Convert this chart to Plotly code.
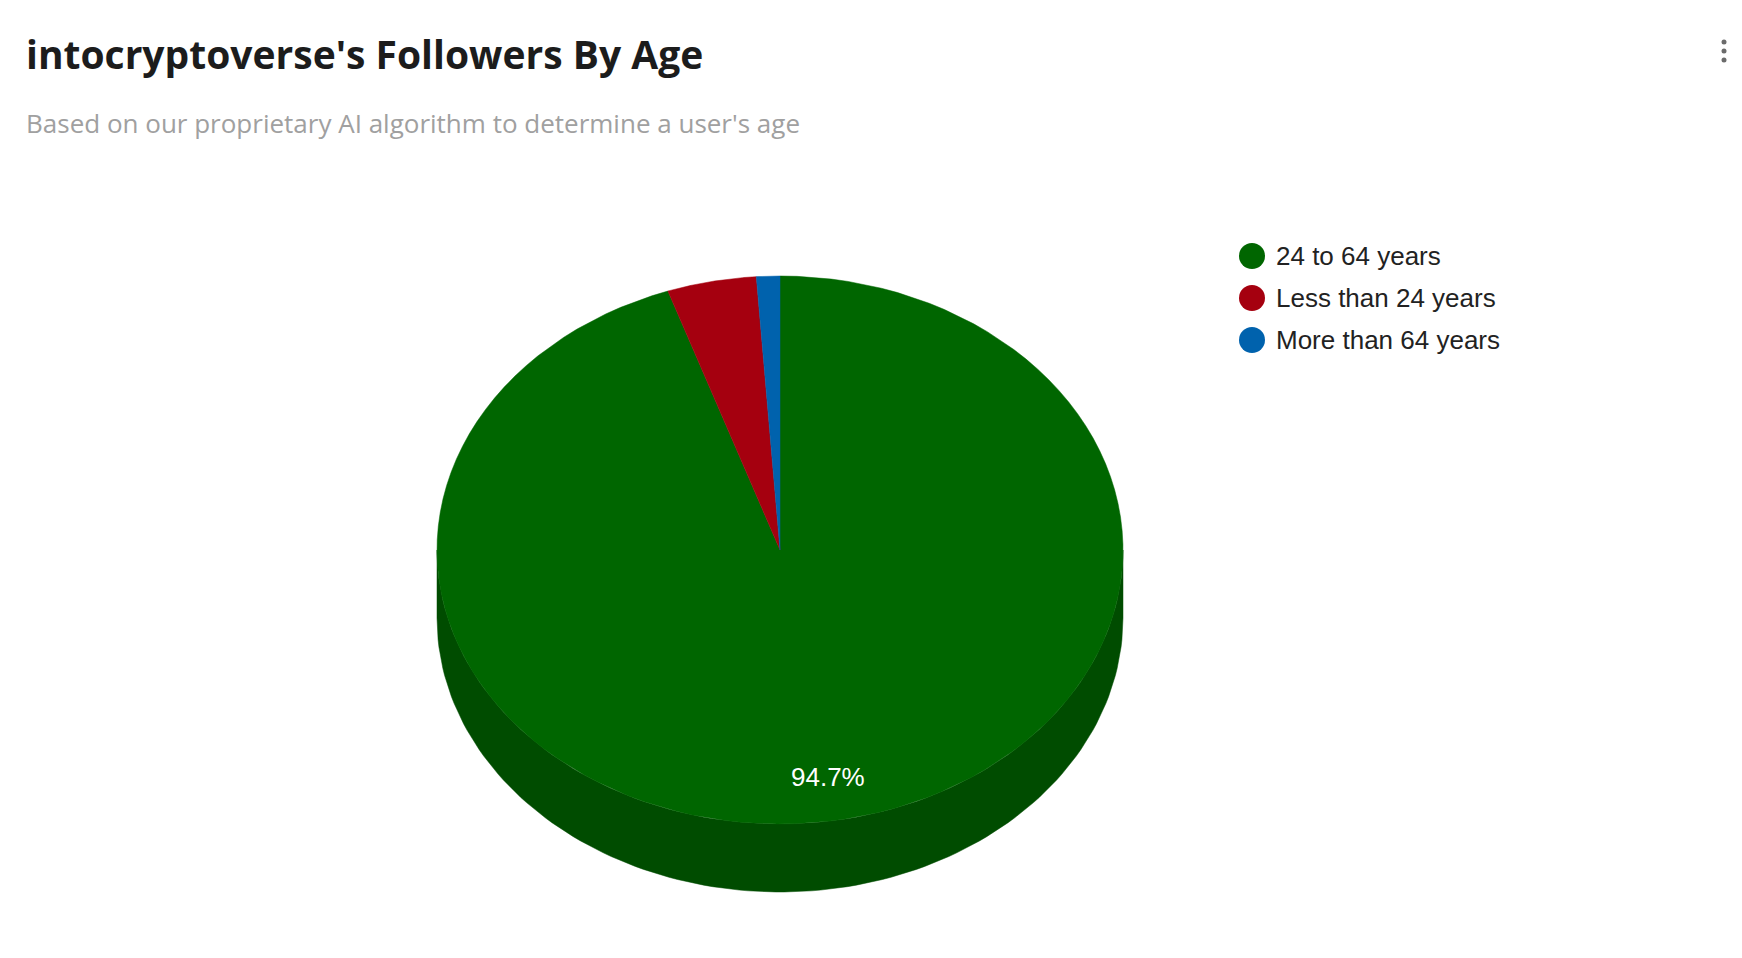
import numpy as np
import plotly.graph_objects as go

# data
age_groups = ["24 to 64 years", "Less than 24 years", "More than 64 years"]
shares = [94.7, 4.2, 1.1]
top_colors = ["#006600", "#a5000f", "#0062ad"]
side_colors = ["#004c00", "#6e000a", "#004174"]

title = "intocryptoverse's Followers By Age"
subtitle = "Based on our proprietary AI algorithm to determine a user's age"

W, H = 1742, 958
PAD = 8                  # default body margin of the html page
cx, cy = 780, 550        # centre of the top face (page pixels)
rx, ry = 343, 274        # radii of the top ellipse
depth = 68               # thickness of the 3d pie
label_r = 0.84


def arc(a0, a1, dy=0.0, n=120):
    # angles clockwise from 12 o'clock, in degrees
    t = np.radians(np.linspace(a0, a1, n))
    return cx + rx * np.sin(t), cy - ry * np.cos(t) + dy


fig = go.Figure()

total = sum(shares)
bounds = np.cumsum([0] + [s / total * 360 for s in shares])

# side wall (front half only)
for i, name in enumerate(age_groups):
    a0, a1 = max(bounds[i], 90), min(bounds[i + 1], 270)
    if a1 <= a0:
        continue
    xt, yt = arc(a0, a1)
    xb, yb = arc(a0, a1, depth)
    fig.add_trace(go.Scatter(
        x=np.concatenate([xt, xb[::-1], xt[:1]]),
        y=np.concatenate([yt, yb[::-1], yt[:1]]),
        fill="toself", fillcolor=side_colors[i], mode="lines",
        line=dict(width=0.5, color=side_colors[i]),
        hoverinfo="skip", showlegend=False))

# top face
for i, name in enumerate(age_groups):
    xa, ya = arc(bounds[i], bounds[i + 1])
    fig.add_trace(go.Scatter(
        x=np.concatenate([[cx], xa, [cx]]),
        y=np.concatenate([[cy], ya, [cy]]),
        fill="toself", fillcolor=top_colors[i], mode="lines",
        line=dict(width=0.5, color=top_colors[i]),
        name=name, hoverinfo="skip", showlegend=False))

# percentage label on the big slice only
for i, s in enumerate(shares):
    if s < 10:
        continue
    mid = np.radians((bounds[i] + bounds[i + 1]) / 2)
    fig.add_annotation(
        x=cx + label_r * rx * np.sin(mid), y=cy - label_r * ry * np.cos(mid),
        text=f"{s:.1f}%", showarrow=False,
        font=dict(family="Liberation Sans, Arial", size=26, color="white"))

# legend drawn by hand (big round dots)
leg_x, leg_y0, leg_step = 1252, 256, 42
fig.add_trace(go.Scatter(
    x=[leg_x] * len(age_groups),
    y=[leg_y0 + leg_step * i for i in range(len(age_groups))],
    mode="markers", marker=dict(size=26, color=top_colors),
    hoverinfo="skip", showlegend=False))
for i, name in enumerate(age_groups):
    fig.add_annotation(
        x=leg_x + 22, y=leg_y0 + leg_step * i, text=name, showarrow=False,
        xanchor="left", yanchor="middle",
        font=dict(family="Liberation Sans, Arial", size=26, color="#222222"))

# title + subtitle
fig.add_annotation(
    x=24, y=53, text=f"<b>{title}</b>", showarrow=False,
    xanchor="left", yanchor="middle",
    font=dict(family="Open Sans", size=39, color="#1c1c1c"))
fig.add_annotation(
    x=24, y=123, text=subtitle, showarrow=False,
    xanchor="left", yanchor="middle",
    font=dict(family="Open Sans", size=26, color="#a0a0a0"))

# menu dots top right
for dy in (42, 51, 60):
    fig.add_shape(type="circle", xref="x", yref="y",
                  x0=1721.5, x1=1726.5, y0=dy - 2.5, y1=dy + 2.5,
                  fillcolor="#6b6b6b", line_width=0)

fig.update_layout(
    width=W - 2 * PAD, height=H - 2 * PAD,
    margin=dict(l=0, r=0, t=0, b=0),
    paper_bgcolor="white", plot_bgcolor="white",
    xaxis=dict(range=[PAD, W - PAD], visible=False, fixedrange=True),
    yaxis=dict(range=[H - PAD, PAD], visible=False, fixedrange=True),
    showlegend=False,
)

fig.write_html("out.html")
